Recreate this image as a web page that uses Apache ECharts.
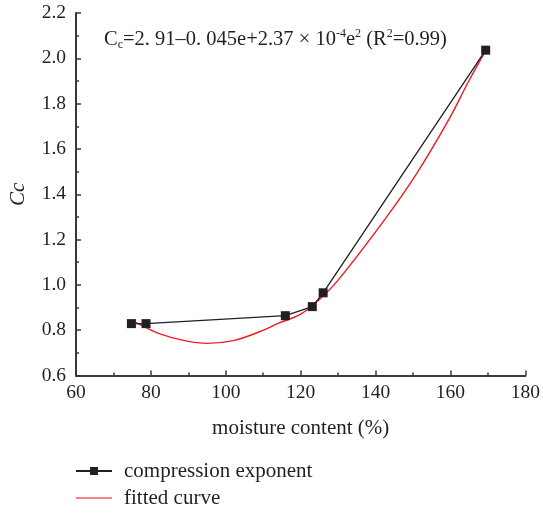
<!DOCTYPE html>
<html>
<head>
<meta charset="utf-8">
<script src="https://cdn.jsdelivr.net/npm/echarts@6/dist/echarts.min.js"></script>
<style>
  html, body { margin: 0; padding: 0; background: #fff; }
  #chart { width: 543px; height: 513px; }
</style>
</head>
<body>
<div id="chart"></div>
<script>
// measured points (moisture content %, Cc)
const moisture = [74.8, 78.7, 115.9, 123.1, 126.0, 169.4];
const ccValues = [0.829, 0.829, 0.864, 0.904, 0.965, 2.036];

// fitted curve
const fitMoisture = [74.8, 76, 82, 89, 95, 102, 109, 114, 120, 125, 130, 143, 151, 159.5, 165, 169.4];
const fitCc = [0.84, 0.833, 0.786, 0.754, 0.742, 0.754, 0.793, 0.830, 0.871, 0.936, 1.021, 1.301, 1.492, 1.728, 1.903, 2.034];

const seriesNames = ['compression exponent', 'fitted curve'];

const font = '"Liberation Serif", "Times New Roman", serif';
const ink = '#231f20';

const chart = echarts.init(document.getElementById('chart'), null, { renderer: 'canvas' });

const option = {
  animation: false,
  backgroundColor: '#fff',
  textStyle: { fontFamily: font, color: ink },
  grid: { left: 76, right: 16, top: 13, bottom: 137.5, containLabel: false },
  xAxis: {
    type: 'value',
    min: 60, max: 180, interval: 20,
    name: 'moisture content (%)',
    nameLocation: 'middle',
    nameGap: 42,
    nameTextStyle: { fontFamily: font, fontSize: 21, color: ink },
    axisLine: { show: true, lineStyle: { color: '#3a3a3a', width: 2 } },
    axisTick: { show: true, inside: true, length: 5, lineStyle: { color: '#3a3a3a', width: 1.5 } },
    minorTick: { show: true, splitNumber: 2, length: 3, lineStyle: { color: '#3a3a3a', width: 1.5 } },
    axisLabel: { fontFamily: font, fontSize: 19.5, color: ink, margin: 7 },
    splitLine: { show: false }
  },
  yAxis: {
    type: 'value',
    min: 0.6, max: 2.2, interval: 0.2,
    name: 'Cc',
    nameLocation: 'middle',
    nameGap: 47,
    nameRotate: 90,
    nameTextStyle: { fontFamily: font, fontSize: 21, fontStyle: 'italic', color: ink },
    axisLine: { show: true, lineStyle: { color: '#3a3a3a', width: 2 } },
    axisTick: { show: true, inside: true, length: 5, lineStyle: { color: '#3a3a3a', width: 1.5 } },
    minorTick: { show: true, splitNumber: 2, length: 3, lineStyle: { color: '#3a3a3a', width: 1.5 } },
    axisLabel: {
      fontFamily: font, fontSize: 19.5, color: ink, margin: 10,
      formatter: v => v.toFixed(1)
    },
    splitLine: { show: false }
  },
  legend: {
    orient: 'vertical',
    left: 75,
    top: 460,
    padding: 0,
    itemWidth: 36,
    itemHeight: 10,
    itemGap: 5,
    textStyle: { fontFamily: font, fontSize: 21, lineHeight: 22, color: ink, padding: [0, 0, 0, 7] },
    data: [
      { name: seriesNames[0] },
      { name: seriesNames[1], icon: 'path://M0,0 L36,0 L36,1.5 L0,1.5 Z', itemStyle: { color: '#f05a5f' } }
    ]
  },
  graphic: [{
    type: 'text',
    left: 104,
    top: 28,
    style: {
      text: '{m|C}{sub|c}{m|=2. 91–0. 045e+2.37 × 10}{sup|-4}{m|e}{sup|2}{m| (R}{sup|2}{m|=0.99)}',
      rich: {
        m: { fontFamily: font, fontSize: 20.5, lineHeight: 23, fill: ink },
        sub: { fontFamily: font, fontSize: 12, lineHeight: 12, verticalAlign: 'bottom', fill: ink },
        sup: { fontFamily: font, fontSize: 12, lineHeight: 12, verticalAlign: 'top', fill: ink }
      }
    }
  }],
  series: [
    {
      name: seriesNames[1],
      type: 'line',
      data: fitMoisture.map((x, i) => [x, fitCc[i]]),
      smooth: 0.4,
      symbol: 'none',
      lineStyle: { color: '#ee1c25', width: 1.4 },
      itemStyle: { color: '#ee1c25' },
      z: 2
    },
    {
      name: seriesNames[0],
      type: 'line',
      data: moisture.map((x, i) => [x, ccValues[i]]),
      symbol: 'rect',
      symbolSize: 9,
      lineStyle: { color: ink, width: 1.3 },
      itemStyle: { color: ink },
      z: 3
    }
  ]
};

chart.setOption(option);
</script>
</body>
</html>
